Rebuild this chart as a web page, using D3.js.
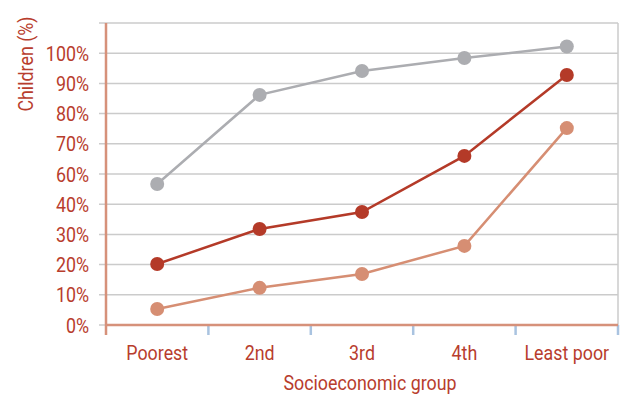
<!DOCTYPE html>
<html>
<head>
<meta charset="utf-8">
<script src="https://cdn.jsdelivr.net/npm/d3@7/dist/d3.min.js"></script>
<style>
  html, body { margin: 0; padding: 0; background: #fff; }
  svg { display: block; }
  text { font-family: Roboto, "Liberation Sans", sans-serif; fill: #b83d2d; font-size: 21px; }
</style>
</head>
<body>
<svg id="chart" width="625" height="396"></svg>
<script>
// Socioeconomic groups along the x axis
const categories = ["Poorest", "2nd", "3rd", "4th", "Least poor"];

// Share of children (%) per group, one array per series
const seriesGray = [46.7, 76.2, 84.1, 88.4, 92.2];
const seriesDark = [20.2, 31.8, 37.4, 56.0, 82.8];
const seriesLight = [5.3, 12.3, 16.9, 26.2, 65.2];

// Gridline values and the labels printed beside them
const gridValues = [0, 10, 20, 30, 40, 50, 60, 70, 80, 90, 100];
const tickLabels = ["0%", "10%", "20%", "30%", "40%", "60%", "70%", "80%", "90%", "100%", ""];

const series = [
  { values: seriesGray, color: "#acadb1" },
  { values: seriesDark, color: "#b43a28" },
  { values: seriesLight, color: "#d68e73" }
];

const svg = d3.select("#chart");
const margin = { left: 106, right: 7, top: 23, bottom: 71 };
const W = 625, H = 396;
const NARROW = 0.85; // horizontal squeeze for a condensed look

const x = d3.scaleBand().domain(categories).range([margin.left, W - margin.right]);
const y = d3.scaleLinear().domain([0, 100]).range([H - margin.bottom, margin.top]);
const cx = c => x(c) + x.bandwidth() / 2;

// Place a condensed text label at (px, py)
function label(sel, px, py, rotate) {
  return sel.attr("x", 0).attr("y", 0)
    .attr("transform", d => {
      const X = typeof px === "function" ? px(d) : px;
      const Y = typeof py === "function" ? py(d) : py;
      return `translate(${X},${Y})${rotate ? ` rotate(${rotate})` : ""} scale(${NARROW},1)`;
    });
}

// Horizontal gridlines (they poke a few px left of the axis)
svg.append("g")
  .selectAll("line")
  .data(gridValues)
  .join("line")
  .attr("x1", margin.left - 7)
  .attr("x2", W - margin.right)
  .attr("y1", d => y(d))
  .attr("y2", d => y(d))
  .attr("stroke", "#cbcbcb")
  .attr("stroke-width", 1.5);

// Right frame edge
svg.append("line")
  .attr("x1", W - margin.right).attr("x2", W - margin.right)
  .attr("y1", y(100)).attr("y2", y(0))
  .attr("stroke", "#cbcbcb").attr("stroke-width", 1.5);

// Y tick labels
svg.append("g")
  .selectAll("text")
  .data(gridValues)
  .join("text")
  .call(label, margin.left - 17, d => y(d) + 7.5)
  .attr("text-anchor", "end")
  .text((d, i) => tickLabels[i]);

// Category boundary ticks below the x axis
const bounds = categories.map(c => x(c)).concat([x.range()[1]]);
svg.append("g")
  .selectAll("line")
  .data(bounds.slice(1))
  .join("line")
  .attr("x1", d => d).attr("x2", d => d)
  .attr("y1", y(0)).attr("y2", y(0) + 10)
  .attr("stroke", "#a9c3e0").attr("stroke-width", 2.5);

// X axis line
svg.append("line")
  .attr("x1", margin.left).attr("x2", W - margin.right)
  .attr("y1", y(0)).attr("y2", y(0))
  .attr("stroke", "#d6917a").attr("stroke-width", 2.5);

// Y axis line
svg.append("line")
  .attr("x1", margin.left).attr("x2", margin.left)
  .attr("y1", y(100)).attr("y2", y(0) + 10)
  .attr("stroke", "#d6917a").attr("stroke-width", 2.5);

// Category labels
svg.append("g")
  .selectAll("text")
  .data(categories)
  .join("text")
  .call(label, d => cx(d), 360)
  .attr("text-anchor", "middle")
  .text(d => d);

// Axis titles
svg.append("text")
  .datum(0)
  .call(label, 370, 390)
  .attr("text-anchor", "middle")
  .text("Socioeconomic group");

svg.append("text")
  .datum(0)
  .call(label, 33, 64, -90)
  .attr("text-anchor", "middle")
  .text("Children (%)");

// Lines and markers
const line = d3.line()
  .x((d, i) => cx(categories[i]))
  .y(d => y(d));

series.forEach(s => {
  svg.append("path")
    .datum(s.values)
    .attr("d", line)
    .attr("fill", "none")
    .attr("stroke", s.color)
    .attr("stroke-width", 2.5);
  svg.append("g")
    .selectAll("circle")
    .data(s.values)
    .join("circle")
    .attr("cx", (d, i) => cx(categories[i]))
    .attr("cy", d => y(d))
    .attr("r", 7)
    .attr("fill", s.color);
});
</script>
</body>
</html>
